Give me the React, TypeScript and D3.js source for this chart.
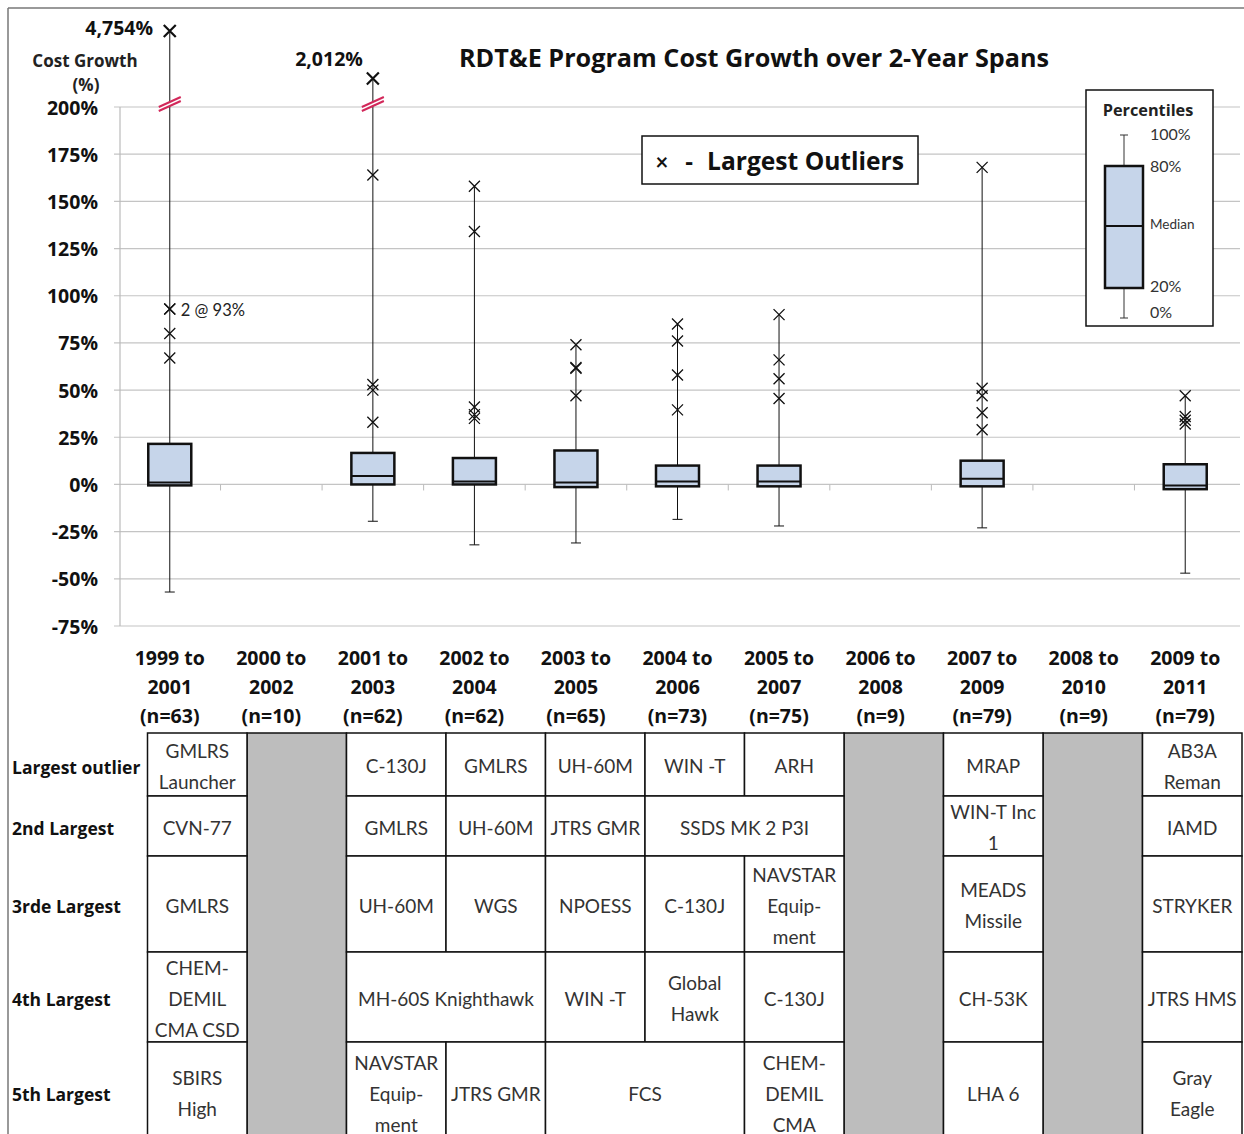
import React from 'react';
import * as d3 from 'd3';

const spanStart = ["1999", "2000", "2001", "2002", "2003", "2004", "2005", "2006", "2007", "2008", "2009"];
const spanEnd = ["2001", "2002", "2003", "2004", "2005", "2006", "2007", "2008", "2009", "2010", "2011"];
const sampleSizes = [63, 10, 62, 62, 65, 73, 75, 9, 79, 9, 79];

const p0 = [-57, null, -19.5, -32, -31, -18.5, -22, null, -23, null, -47];
const p20 = [-0.5, null, 0, 0, -1.4, -1, -1, null, -1, null, -2.5];
const medians = [1, null, 4.5, 1.5, 1, 1.5, 1.5, null, 3, null, -0.5];
const p80 = [21.5, null, 16.7, 14, 18, 10, 10, null, 12.6, null, 10.7];
const outliers: number[][] = [
  [4754, 93, 93, 80, 67],
  [],
  [2012, 164, 53, 50, 33],
  [158, 134, 41, 37, 35],
  [74, 62, 61.5, 47],
  [85, 76, 58, 39.5],
  [90, 66, 56, 45.5],
  [],
  [168, 51, 47, 38, 29],
  [],
  [47, 36, 34, 32],
];
const yTicks = [-75, -50, -25, 0, 25, 50, 75, 100, 125, 150, 175, 200];

const rowLabels = ["Largest outlier", "2nd Largest", "3rde Largest", "4th Largest", "5th Largest"];
const tableRows: (string | null)[][] = [
  ["GMLRS\nLauncher", null, "C-130J", "GMLRS", "UH-60M", "WIN -T", "ARH", null, "MRAP", null, "AB3A\nReman"],
  ["CVN-77", null, "GMLRS", "UH-60M", "JTRS GMR", "SSDS MK 2 P3I", "<", null, "WIN-T Inc\n1", null, "IAMD"],
  ["GMLRS", null, "UH-60M", "WGS", "NPOESS", "C-130J", "NAVSTAR\nEquip-\nment", null, "MEADS\nMissile", null, "STRYKER"],
  ["CHEM-\nDEMIL\nCMA CSD", null, "MH-60S Knighthawk", "<", "WIN -T", "Global\nHawk", "C-130J", null, "CH-53K", null, "JTRS HMS"],
  ["SBIRS\nHigh", null, "NAVSTAR\nEquip-\nment", "JTRS GMR", "FCS", "<", "CHEM-\nDEMIL\nCMA", null, "LHA 6", null, "Gray\nEagle"],
];

const FONT = "Lato, 'Open Sans', 'Liberation Sans', sans-serif";
const BFONT = "'Open Sans', Lato, 'Liberation Sans', sans-serif";
const W = 1244;
const H = 1134;

export default function App() {
  const cats = spanStart.map((s, i) => `${s}-${spanEnd[i]}`);
  const x = d3.scaleBand().domain(cats).range([119, 1236]);
  const y = d3.scaleLinear().domain([-75, 200]).range([626, 107]);
  const yUp = d3.scaleLinear().domain([200, 4754]).range([110, 31]);
  const yv = (v: number) => (v <= 200 ? y(v) : yUp(v));
  const bw = 43;

  const tx = d3.scaleBand().domain(cats).range([147.5, 1242]);
  const rowEdges = [733, 796, 856, 952, 1042, 1142];

  const cross = (cx: number, cy: number, r: number, sw: number, key: string) => (
    <path key={key} d={`M${cx - r},${cy - r}L${cx + r},${cy + r}M${cx - r},${cy + r}L${cx + r},${cy - r}`}
      stroke="#111" strokeWidth={sw} fill="none" />
  );

  const breakMark = (cx: number, cy: number, key: string) => (
    <g key={key}>
      <polygon points={`${cx - 11},${cy + 5} ${cx + 11},${cy - 5} ${cx + 11},${cy - 1} ${cx - 11},${cy + 9}`} fill="#fff" />
      <line x1={cx - 11} y1={cy + 5} x2={cx + 11} y2={cy - 5} stroke="#d2285a" strokeWidth={2} />
      <line x1={cx - 11} y1={cy + 9} x2={cx + 11} y2={cy - 1} stroke="#d2285a" strokeWidth={2} />
    </g>
  );

  return (
    <svg width={W} height={H} style={{ position: 'absolute', left: 0, top: 0, background: '#fff' }}
      fontFamily={FONT}>
      <rect x={0} y={0} width={W} height={H} fill="#fff" />
      {/* outer frame */}
      <line x1={8} y1={8} x2={W} y2={8} stroke="#777" strokeWidth={1.5} />
      <line x1={8} y1={8} x2={8} y2={H} stroke="#777" strokeWidth={1.5} />

      {/* gridlines */}
      {yTicks.map(t => (
        <g key={t}>
          <line x1={114} x2={1240} y1={y(t)} y2={y(t)} stroke="#c4c4c4" strokeWidth={1.2} />
          <text x={98} y={y(t)} textAnchor="end" dominantBaseline="central" fontFamily={BFONT} fontSize={19.5} fontWeight={700} fill="#111">{`${t}%`}</text>
        </g>
      ))}
      <line x1={120} x2={120} y1={y(200)} y2={y(-75)} stroke="#bbb" strokeWidth={1.2} />
      {cats.map((c, i) => i > 0 ? (
        <line key={c} x1={x(c)!} x2={x(c)!} y1={y(0)} y2={y(0) + 6} stroke="#bbb" strokeWidth={1} />
      ) : null)}

      {/* axis title */}
      <text x={85} y={60} textAnchor="middle" dominantBaseline="central" fontFamily={BFONT} fontSize={17} fontWeight={700} fill="#222">Cost Growth</text>
      <text x={86} y={84} textAnchor="middle" dominantBaseline="central" fontFamily={BFONT} fontSize={17} fontWeight={700} fill="#222">(%)</text>

      {/* chart title */}
      <text x={754} y={57} textAnchor="middle" dominantBaseline="central" fontFamily={BFONT} fontSize={25.2} fontWeight={700} fill="#111">RDT&amp;E Program Cost Growth over 2-Year Spans</text>

      {/* boxes */}
      {cats.map((c, i) => {
        if (p80[i] === null) return null;
        const cx = x(c)! + x.bandwidth() / 2;
        const outs = outliers[i];
        const top = outs.length ? Math.max(...outs) : (p80[i] as number);
        const els: React.ReactNode[] = [];
        els.push(<line key="wu" x1={cx} x2={cx} y1={yv(top)} y2={y(p80[i] as number)} stroke="#111" strokeWidth={1} />);
        els.push(<line key="wl" x1={cx} x2={cx} y1={y(p20[i] as number)} y2={y(p0[i] as number)} stroke="#111" strokeWidth={1} />);
        els.push(<line key="cap" x1={cx - 5} x2={cx + 5} y1={y(p0[i] as number)} y2={y(p0[i] as number)} stroke="#111" strokeWidth={1} />);
        if (top > 200) els.push(breakMark(cx, y(200) - 5, "brk"));
        els.push(<rect key="box" x={cx - bw / 2} y={y(p80[i] as number)} width={bw} height={y(p20[i] as number) - y(p80[i] as number)}
          fill="#c6d5ea" stroke="#111" strokeWidth={2.5} />);
        els.push(<line key="med" x1={cx - bw / 2} x2={cx + bw / 2} y1={y(medians[i] as number)} y2={y(medians[i] as number)} stroke="#111" strokeWidth={2} />);
        outs.forEach((v, k) => {
          const big = v > 200;
          els.push(cross(cx, yv(v), big ? 6 : 5.5, big ? 2.2 : 1.3, `o${k}`));
        });
        return <g key={c}>{els}</g>;
      })}

      {/* outlier annotations */}
      <text x={153} y={yUp(4754) - 4} textAnchor="end" dominantBaseline="central" fontFamily={BFONT} fontSize={19.5} fontWeight={700} fill="#111">4,754%</text>
      <text x={x(cats[2])! + x.bandwidth() / 2 - 10} y={yUp(2012) - 20} textAnchor="end" dominantBaseline="central" fontFamily={BFONT} fontSize={19.5} fontWeight={700} fill="#111">2,012%</text>
      <text x={x(cats[0])! + x.bandwidth() / 2 + 11} y={y(93) + 1} dominantBaseline="central" fontSize={16.5} fill="#222">2 @ 93%</text>

      {/* Largest outliers legend */}
      <rect x={642} y={136} width={276} height={48} fill="#fff" stroke="#111" strokeWidth={1.5} />
      <text x={662} y={161} textAnchor="middle" dominantBaseline="central" fontSize={22} fontWeight={700} fill="#111">×</text>
      <text x={689} y={160} textAnchor="middle" dominantBaseline="central" fontFamily={BFONT} fontSize={24} fontWeight={700} fill="#111">-</text>
      <text x={707} y={160} dominantBaseline="central" fontFamily={BFONT} fontSize={24.6} fontWeight={700} fill="#111">Largest Outliers</text>

      {/* Percentiles legend */}
      <rect x={1086} y={90} width={127} height={236} fill="#fff" stroke="#111" strokeWidth={1.5} />
      <text x={1148} y={110} textAnchor="middle" dominantBaseline="central" fontFamily={BFONT} fontSize={16.3} fontWeight={700} fill="#222">Percentiles</text>
      <line x1={1124} x2={1124} y1={135} y2={318} stroke="#333" strokeWidth={1} />
      <line x1={1120} x2={1128} y1={135} y2={135} stroke="#333" strokeWidth={1} />
      <line x1={1120} x2={1128} y1={318} y2={318} stroke="#333" strokeWidth={1} />
      <rect x={1105} y={166} width={38} height={122} fill="#c6d5ea" stroke="#111" strokeWidth={2.5} />
      <line x1={1105} x2={1143} y1={226} y2={226} stroke="#111" strokeWidth={2} />
      <text x={1150} y={133} dominantBaseline="central" fontSize={16} fill="#333">100%</text>
      <text x={1150} y={165} dominantBaseline="central" fontSize={16} fill="#333">80%</text>
      <text x={1150} y={224} dominantBaseline="central" fontSize={13.5} fill="#333">Median</text>
      <text x={1150} y={285} dominantBaseline="central" fontSize={16} fill="#333">20%</text>
      <text x={1150} y={311} dominantBaseline="central" fontSize={16} fill="#333">0%</text>

      {/* x labels */}
      {cats.map((c, i) => {
        const cx = x(c)! + x.bandwidth() / 2;
        return (
          <g key={c} fontFamily={BFONT} fontSize={19.5} fontWeight={700} fill="#111">
            <text x={cx} y={657} textAnchor="middle" dominantBaseline="central">{`${spanStart[i]} to`}</text>
            <text x={cx} y={686} textAnchor="middle" dominantBaseline="central">{spanEnd[i]}</text>
            <text x={cx} y={715} textAnchor="middle" dominantBaseline="central">{`(n=${sampleSizes[i]})`}</text>
          </g>
        );
      })}

      {/* table */}
      {rowLabels.map((l, r) => (
        <text key={l} x={12} y={(rowEdges[r] + rowEdges[r + 1]) / 2 + 2} dominantBaseline="central" fontFamily={BFONT} fontSize={17.5} fontWeight={700} fill="#111">{l}</text>
      ))}
      {cats.map((c, i) => tableRows[0][i] === null ? (
        <rect key={`g${c}`} x={tx(c)!} y={rowEdges[0]} width={tx.bandwidth()} height={H - rowEdges[0] + 10} fill="#bdbdbd" stroke="#111" strokeWidth={1.5} />
      ) : null)}
      {tableRows.map((row, r) => row.map((cell, i) => {
        if (cell === null || cell === "<") return null;
        let span = 1;
        while (i + span < row.length && row[i + span] === "<") span++;
        const x0 = tx(cats[i])!;
        const w = tx.bandwidth() * span;
        const y0 = rowEdges[r];
        const h = rowEdges[r + 1] - y0;
        const lines = cell.split("\n");
        const cy = y0 + h / 2;
        return (
          <g key={`c${r}-${i}`}>
            <rect x={x0} y={y0} width={w} height={h} fill="#fff" stroke="#111" strokeWidth={1.5} />
            {lines.map((t, k) => (
              <text key={k} x={x0 + w / 2} y={cy + (k - (lines.length - 1) / 2) * 31 + 1} textAnchor="middle" dominantBaseline="central"
                fontSize={19} fill="#333">{t}</text>
            ))}
          </g>
        );
      }))}
    </svg>
  );
}
